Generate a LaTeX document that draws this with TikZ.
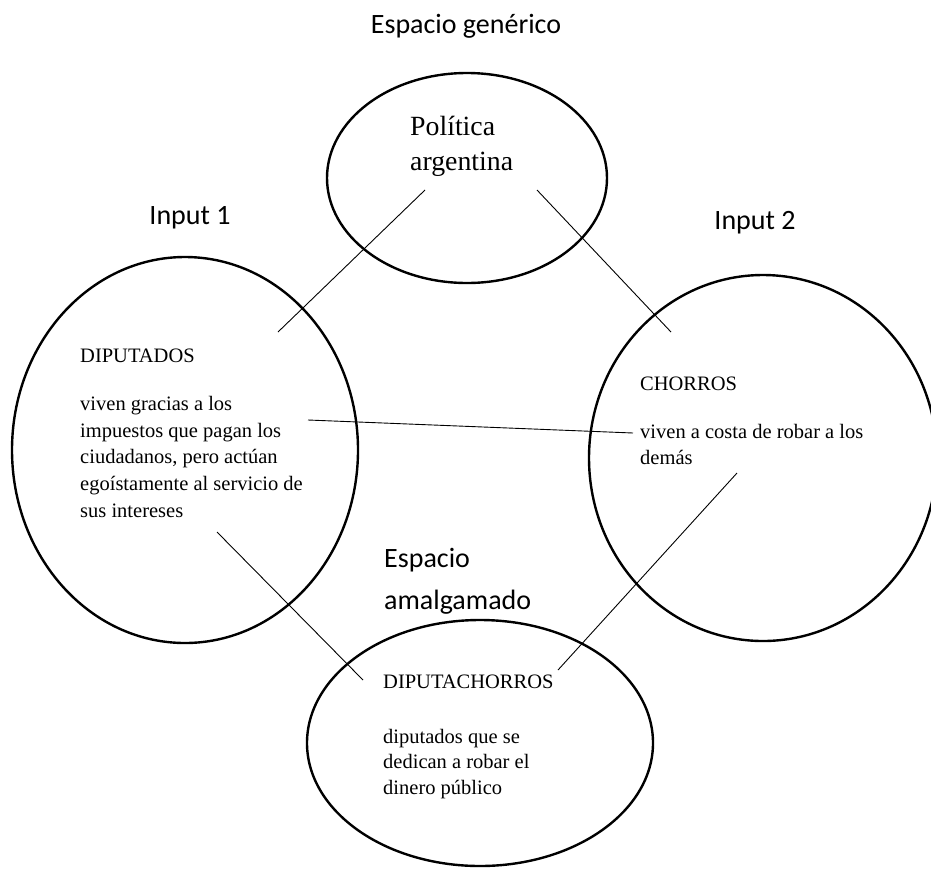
\documentclass[tikz,border=0pt]{standalone}
\usepackage{fontspec}
\usetikzlibrary{shapes.geometric}
\newfontfamily\labelfont{Carlito}
\newfontfamily\bodyfont{Liberation Serif}
\begin{document}
\begin{tikzpicture}[x=1pt,y=-1pt,
  space/.style={draw, line width=2.4pt, ellipse, inner sep=0pt},
  link/.style={draw, line width=0.9pt},
  title/.style={font=\labelfont\fontsize{28}{34}\selectfont, inner sep=0pt},
  txt/.style={font=\bodyfont\fontsize{20.5}{26.5}\selectfont, anchor=base west, inner sep=0pt},
  big/.style={font=\bodyfont\fontsize{27.8}{35}\selectfont, anchor=base west, inner sep=0pt}]
\useasboundingbox (0,0) rectangle (931,868);

% the four mental spaces
\node[space, minimum width=280pt, minimum height=210pt] (gen) at (467,178) {};
\node[space, minimum width=346pt, minimum height=386pt] (in1) at (185,450) {};
\node[space, minimum width=348pt, minimum height=366pt] (in2) at (763,458) {};
\node[space, minimum width=346pt, minimum height=246pt] (bl) at (480,743) {};

% headings
\node[title, anchor=base] (tgen) at (466,33) {Espacio genérico};
\node[title, anchor=base] (tin1) at (190,224) {Input 1};
\node[title, anchor=base] (tin2) at (755,229) {Input 2};
\node[title, anchor=base west] (tbl1) at (384,567) {Espacio};
\node[title, anchor=base west] (tbl2) at (384,609) {amalgamado};

% generic space
\node[big] (g1) at (410,135) {Política};
\node[big] (g2) at (410,170) {argentina};

% input 1
\node[txt] (a0) at (80,362) {DIPUTADOS};
\node[txt] (a1) at (80,410) {viven gracias a los};
\node[txt] (a2) at (80,437) {impuestos que pagan los};
\node[txt] (a3) at (80,463) {ciudadanos, pero actúan};
\node[txt] (a4) at (80,490) {egoístamente al servicio de};
\node[txt] (a5) at (80,517) {sus intereses};

% input 2
\node[txt] (b0) at (640,390) {CHORROS};
\node[txt] (b1) at (640,438) {viven a costa de robar a los};
\node[txt] (b2) at (640,464) {demás};

% blend
\node[txt] (c0) at (383,688) {DIPUTACHORROS};
\node[txt] (c1) at (383,743) {diputados que se};
\node[txt] (c2) at (383,768) {dedican a robar el};
\node[txt] (c3) at (383,794) {dinero público};

% connector ends
\coordinate (p1a) at (425,190);
\coordinate (p1b) at (278,332);
\coordinate (p2a) at (537,190);
\coordinate (p2b) at (671,332);
\coordinate (p3a) at (308,420);
\coordinate (p3b) at (633,433);
\coordinate (p4a) at (217,532);
\coordinate (p4b) at (363,680);
\coordinate (p5a) at (737,473);
\coordinate (p5b) at (558,670);

\draw[link] (p1a) -- (p1b);
\draw[link] (p2a) -- (p2b);
\draw[link] (p3a) -- (p3b);
\draw[link] (p4a) -- (p4b);
\draw[link] (p5a) -- (p5b);
\end{tikzpicture}
\end{document}
